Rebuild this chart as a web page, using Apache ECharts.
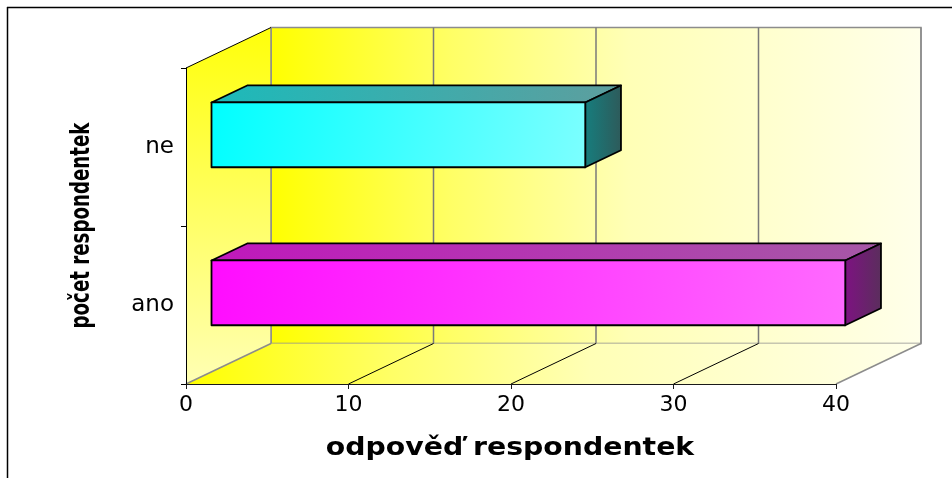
<!DOCTYPE html>
<html>
<head>
<meta charset="utf-8">
<script src="https://cdn.jsdelivr.net/npm/echarts@6/dist/echarts.min.js"></script>
<style>
  html, body { margin: 0; padding: 0; background: #ffffff; }
  #chart { width: 952px; height: 478px; }
</style>
</head>
<body>
<div id="chart"></div>
<script>
// Answers of the respondents
const categories = ['ano', 'ne'];
const respondents = [39, 23];
const xTicks = [0, 10, 20, 30, 40];
const xAxisTitle = 'odpověď respondentek';
const yAxisTitle = 'počet respondentek';

// Oblique projection of the chart depth (pixels from front plane to back wall)
const DEPTH_X = 85;
const DEPTH_Y = -40.5;
// Bars sit inside the depth: front face offset, bar depth and bar thickness (fractions)
const BAR_FRONT = 0.3;
const BAR_DEPTH = 0.42;
const BAR_THICK = 0.41;

const FONT = '"DejaVu Sans", "Liberation Sans", Arial, sans-serif';

const barColors = {
  ne: {
    front: ['#00FFFF', '#7CFFFF'],
    top: ['#1CBABA', '#5E9E9E'],
    side: ['#167E7E', '#2E5A5A']
  },
  ano: {
    front: ['#FF0CFF', '#FF6AFF'],
    top: ['#C018BC', '#A658A6'],
    side: ['#7E1282', '#5A2E5C']
  }
};

function linear(x2, y2, stops) {
  return {
    type: 'linear', x: 0, y: 0, x2: x2, y2: y2,
    colorStops: stops.map(function (s) { return { offset: s[0], color: s[1] }; })
  };
}

const wallStops = [[0, '#FFFF00'], [0.28, '#FFFF66'], [0.55, '#FFFFB6'], [1, '#FFFFEA']];
const sideStops = [[0, '#FFFF0A'], [0.5, '#FFFF60'], [1, '#FFFFB4']];

function renderWalls(params, api) {
  const cs = params.coordSys;
  const x0 = cs.x, x1 = cs.x + cs.width, y0 = cs.y, y1 = cs.y + cs.height;
  const dx = DEPTH_X, dy = DEPTH_Y;
  const children = [];
  // back wall
  children.push({
    type: 'polygon',
    shape: { points: [[x0 + dx, y0 + dy], [x1 + dx, y0 + dy], [x1 + dx, y1 + dy], [x0 + dx, y1 + dy]] },
    style: { fill: linear(1, 0, wallStops), stroke: '#8C8C8C', lineWidth: 1.5 }
  });
  // left side wall
  children.push({
    type: 'polygon',
    shape: { points: [[x0, y0], [x0 + dx, y0 + dy], [x0 + dx, y1 + dy], [x0, y1]] },
    style: { fill: linear(0, 1, sideStops) }
  });
  // floor
  children.push({
    type: 'polygon',
    shape: { points: [[x0, y1], [x1, y1], [x1 + dx, y1 + dy], [x0 + dx, y1 + dy]] },
    style: { fill: linear(1, 0, wallStops) }
  });
  xTicks.forEach(function (v, i) {
    const x = api.coord([v, 0])[0];
    const edge = (i === 0 || i === xTicks.length - 1);
    // grid line on the back wall
    children.push({
      type: 'line',
      shape: { x1: x + dx, y1: y0 + dy, x2: x + dx, y2: y1 + dy },
      style: { stroke: edge ? '#8C8C8C' : '#7A7A7A', lineWidth: 1.5 }
    });
    // grid line across the floor
    children.push({
      type: 'line',
      shape: { x1: x, y1: y1, x2: x + dx, y2: y1 + dy },
      style: { stroke: edge ? '#8C8C8C' : '#000000', lineWidth: edge ? 1.5 : 1 }
    });
  });
  // top edge of the side wall
  children.push({
    type: 'line',
    shape: { x1: x0, y1: y0, x2: x0 + dx, y2: y0 + dy },
    style: { stroke: '#000000', lineWidth: 1 }
  });
  return { type: 'group', children: children };
}

function renderBar(params, api) {
  const cat = api.value(1);
  const val = api.value(0);
  const start = api.coord([0, cat]);
  const end = api.coord([val, cat]);
  const band = api.size([0, 1])[1];
  const h = band * BAR_THICK;
  const ox = DEPTH_X * BAR_FRONT, oy = DEPTH_Y * BAR_FRONT;
  const bx = DEPTH_X * BAR_DEPTH, by = DEPTH_Y * BAR_DEPTH;
  const l = start[0] + ox, r = end[0] + ox;
  const t = start[1] + oy - h / 2, b = start[1] + oy + h / 2;
  const c = barColors[categories[cat]];
  const edge = { stroke: '#000000', lineWidth: 1.8, lineJoin: 'round' };
  return {
    type: 'group',
    children: [
      {
        type: 'polygon',
        shape: { points: [[l, t], [l + bx, t + by], [r + bx, t + by], [r, t]] },
        style: Object.assign({ fill: linear(1, 0, [[0, c.top[0]], [1, c.top[1]]]) }, edge)
      },
      {
        type: 'polygon',
        shape: { points: [[r, t], [r + bx, t + by], [r + bx, b + by], [r, b]] },
        style: Object.assign({ fill: linear(1, 0, [[0, c.side[0]], [1, c.side[1]]]) }, edge)
      },
      {
        type: 'polygon',
        shape: { points: [[l, t], [r, t], [r, b], [l, b]] },
        style: Object.assign({ fill: linear(1, 1, [[0, c.front[0]], [1, c.front[1]]]) }, edge)
      }
    ]
  };
}

const chart = echarts.init(document.getElementById('chart'));
chart.setOption({
  animation: false,
  backgroundColor: '#ffffff',
  grid: { left: 186, right: 116, top: 68, bottom: 94, containLabel: false },
  xAxis: {
    type: 'value',
    min: xTicks[0],
    max: xTicks[xTicks.length - 1],
    interval: 10,
    axisLine: { show: true, lineStyle: { color: '#1A1A1A', width: 1 } },
    axisTick: { show: true, length: 5, lineStyle: { color: '#1A1A1A' } },
    splitLine: { show: false },
    axisLabel: { color: '#000000', fontSize: 22, fontFamily: FONT, margin: 10 }
  },
  yAxis: {
    type: 'category',
    data: categories,
    axisLine: { show: true, lineStyle: { color: '#000000', width: 1 } },
    axisTick: { show: true, length: 5, lineStyle: { color: '#000000' } },
    splitLine: { show: false },
    axisLabel: { color: '#000000', fontSize: 23, fontFamily: FONT, margin: 12 }
  },
  graphic: [
    // outer frame of the chart area (left and top edges)
    {
      type: 'line', silent: true,
      shape: { x1: 7.5, y1: 7, x2: 7.5, y2: 478 },
      style: { stroke: '#000000', lineWidth: 1.5 }
    },
    {
      type: 'line', silent: true,
      shape: { x1: 7, y1: 7.5, x2: 952, y2: 7.5 },
      style: { stroke: '#000000', lineWidth: 1.5 }
    },
    {
      type: 'text', silent: true,
      x: 510, y: 449, scaleX: 1.18,
      style: {
        text: xAxisTitle, fill: '#000000',
        font: 'bold 24px ' + FONT,
        textAlign: 'center', textVerticalAlign: 'middle'
      }
    },
    {
      type: 'text', silent: true,
      x: 82, y: 225.5, rotation: Math.PI / 2, scaleX: 0.7,
      style: {
        text: yAxisTitle, fill: '#000000',
        font: 'bold 26px ' + FONT,
        textAlign: 'center', textVerticalAlign: 'middle'
      }
    }
  ],
  series: [
    {
      type: 'custom',
      z: 0,
      silent: true,
      renderItem: renderWalls,
      data: [[0, 0]],
      encode: { x: 0, y: 1 }
    },
    {
      type: 'custom',
      z: 2,
      silent: true,
      renderItem: renderBar,
      data: respondents.map(function (v, i) { return [v, i]; }),
      encode: { x: 0, y: 1 }
    }
  ]
});
</script>
</body>
</html>
